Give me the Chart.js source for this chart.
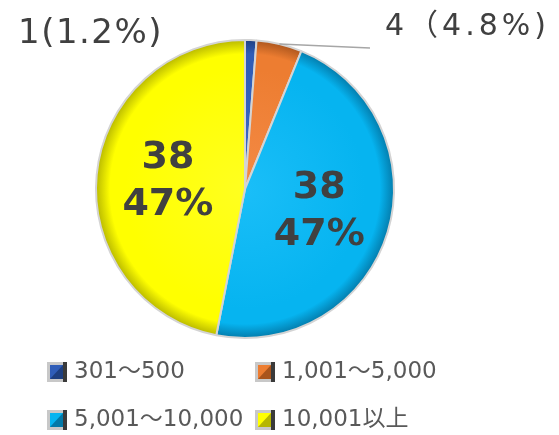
<!DOCTYPE html>
<html>
<head>
<meta charset="utf-8">
<script src="https://cdn.jsdelivr.net/npm/chart.js@4"></script>
<style>
  html, body { margin: 0; padding: 0; background: #fff; }
  #wrap { width: 559px; height: 435px; position: relative; }
</style>
</head>
<body>
<div id="wrap"><canvas id="chart" width="559" height="435"></canvas></div>
<script>
// datos
const categories   = ['301～500', '1,001～5,000', '5,001～10,000', '10,001以上'];
const counts       = [1, 4, 38, 38];
const pctTexts     = ['1.2%', '4.8%', '47%', '47%'];
const outsideTexts = ['1(1.2%)', '4（4.8%)', null, null];
const baseColors   = ['#2F5DB8', '#ED7D31', '#06B4F0', '#FFFF00'];
const rimColors    = ['#1E3F80', '#A9541C', '#0379A8', '#B5B500'];
const lightColors  = ['#3A6AC8', '#F48A45', '#1ABEF8', '#FFFF20'];

const FONT = "'DejaVu Sans', 'Noto Sans CJK JP', sans-serif";

function sliceFill(ctx) {
  const chart = ctx.chart;
  const area = chart.chartArea;
  if (!area) return baseColors[ctx.dataIndex];
  const cx = (area.left + area.right) / 2;
  const cy = (area.top + area.bottom) / 2;
  const r  = Math.min(area.right - area.left, area.bottom - area.top) / 2;
  const g = chart.ctx.createRadialGradient(cx, cy, 0, cx, cy, r);
  const i = ctx.dataIndex;
  g.addColorStop(0, lightColors[i]);
  g.addColorStop(0.8, baseColors[i]);
  g.addColorStop(0.9, baseColors[i]);
  g.addColorStop(1, rimColors[i]);
  return g;
}

// etiquetas y leyenda dibujadas a mano
const labelsPlugin = {
  id: 'labelsPlugin',
  afterDraw(chart) {
    const c = chart.ctx;
    const arcs = chart.getDatasetMeta(0).data;
    c.save();

    arcs.forEach((arc, i) => {
      const p = arc.getProps(['x', 'y', 'startAngle', 'endAngle', 'outerRadius'], true);
      const mid = (p.startAngle + p.endAngle) / 2;
      if (!outsideTexts[i]) {
        const r = p.outerRadius * 0.52;
        const lx = p.x + Math.cos(mid) * r;
        const ly = p.y + Math.sin(mid) * r;
        c.fillStyle = '#404040';
        c.font = 'bold 38px ' + FONT;
        c.textAlign = 'center';
        c.textBaseline = 'middle';
        c.fillText(String(counts[i]), lx, ly - 23);
        c.fillText(pctTexts[i], lx, ly + 24);
      }
    });

    // externas
    c.fillStyle = '#404040';
    c.textAlign = 'left';
    c.textBaseline = 'alphabetic';
    c.letterSpacing = '1.5px';
    c.font = '34px ' + FONT;
    c.fillText(outsideTexts[0], 18, 43);
    c.letterSpacing = '4px';
    c.font = '30px ' + FONT;
    c.fillText(outsideTexts[1], 385, 35);
    c.letterSpacing = '0px';

    // línea guía del 4
    const a1 = arcs[1].getProps(['x', 'y', 'startAngle', 'endAngle', 'outerRadius'], true);
    const m1 = (a1.startAngle + a1.endAngle) / 2;
    c.strokeStyle = '#A6A6A6';
    c.lineWidth = 1.5;
    c.beginPath();
    c.moveTo(a1.x + Math.cos(m1) * a1.outerRadius, a1.y + Math.sin(m1) * a1.outerRadius);
    c.lineTo(370, 48);
    c.stroke();

    // leyenda 2x2
    const cols = [47, 255];
    const rows = [372, 420];
    c.font = '23px ' + FONT;
    c.textBaseline = 'middle';
    categories.forEach((name, i) => {
      const bx = cols[i % 2];
      const by = rows[Math.floor(i / 2)] - 10;
      c.fillStyle = '#C8C8C8';
      c.fillRect(bx, by, 20, 20);
      c.fillStyle = '#3A3A3A';
      c.fillRect(bx + 16, by, 4, 20);
      c.fillStyle = baseColors[i];
      c.fillRect(bx + 3, by + 3, 13, 14);
      c.fillStyle = rimColors[i];
      c.beginPath();
      c.moveTo(bx + 3, by + 17);
      c.lineTo(bx + 16, by + 17);
      c.lineTo(bx + 16, by + 3);
      c.closePath();
      c.fill();
      c.fillStyle = '#595959';
      c.fillText(name, bx + 27, rows[Math.floor(i / 2)]);
    });

    c.restore();
  }
};

new Chart(document.getElementById('chart').getContext('2d'), {
  type: 'pie',
  data: {
    labels: categories,
    datasets: [{
      data: counts,
      backgroundColor: sliceFill,
      borderColor: '#D4D4D4',
      borderWidth: 2
    }]
  },
  options: {
    responsive: false,
    animation: false,
    layout: { padding: { top: 39, bottom: 96, left: 95, right: 164 } },
    plugins: {
      legend: { display: false },
      tooltip: { enabled: false }
    }
  },
  plugins: [labelsPlugin]
});
</script>
</body>
</html>
